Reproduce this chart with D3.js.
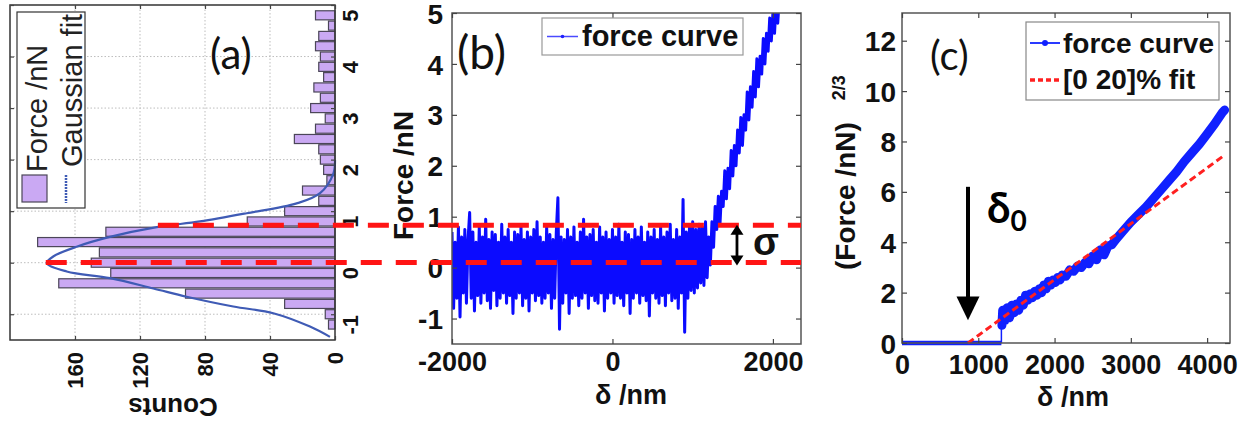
<!DOCTYPE html>
<html><head><meta charset="utf-8">
<script src="https://cdn.jsdelivr.net/npm/d3@7"></script>
<style>
body{margin:0;background:#fff;}
svg{display:block;}
</style></head><body>
<svg id="chart" width="1253" height="425"></svg>
<script>
// ---------- Panel (a): rotated histogram ----------
const histBinCenters = [-1.2,-1.0,-0.8,-0.6,-0.4,-0.2,0,0.2,0.4,0.6,0.8,1.0,1.2,1.4,1.6,1.8,2.0,2.2,2.4,2.6,2.8,3.0,3.2,3.4,3.6,3.8,4.0,4.2,4.4,4.6,4.8];
const histCounts = [4,6,31,92,170,138,150,145,183,141,54,31,10,20,5,7,9,10,25,12,6,15,9,13,7,10,9,12,10,4,12];
const gaussForce = [1.99,1.73,1.35,1.15,0.96,0.80,0.69,0.50,0.31,0.12,-0.01,-0.17,-0.30,-0.50,-0.66,-0.85,-0.98,-1.24,-1.44];
const gaussCounts = [0,1.0,9.2,23.6,54.3,83.1,109.7,138.5,159,173.4,177.4,165.1,138.5,111.8,91.3,62.6,38,15.4,3.1];
const countTicks = [0,40,80,120,160];
const forceTicksA = [-1,0,1,2,3,4,5];
const legendA = ["Force /nN","Gaussian fit"];

// ---------- Panel (b): force curve ----------
const curveBStart = -2000, curveBStep = 20;
const curveBForce = [
 0.7,-0.8,0.5,-0.6,0.8,-0.97,0.6,-0.5,0.75,-0.7,0.55,1.08,-0.6,0.7,-0.85,0.5,-0.55,0.8,-0.7,0.6,
 -0.5,0.95,-0.65,0.55,-0.8,0.7,-0.45,0.65,-0.75,0.5,-0.6,0.85,-0.5,0.6,-0.7,0.75,-0.55,0.5,-0.9,0.7,
 -0.6,0.65,-0.5,0.8,-0.75,0.55,-0.6,0.7,-0.85,0.6,-0.5,0.75,-0.65,0.9,-0.55,0.6,-0.7,0.5,-0.6,0.8,
 -0.5,0.65,-0.8,0.55,-0.6,0.7,1.37,-1.21,0.6,-0.7,0.55,-0.5,0.75,-0.9,0.6,-0.6,0.8,-0.55,0.5,-0.75,
 0.7,-0.6,0.95,-0.5,0.6,-0.8,0.65,-0.55,0.75,-0.65,0.5,-0.7,0.8,-0.5,0.6,-0.85,0.7,-0.6,0.55,-0.5,
 0.75,-0.7,0.6,-0.55,0.85,-0.6,0.5,-0.75,0.7,-0.5,0.65,-0.9,0.55,-0.6,0.75,-0.5,0.6,-0.7,0.8,-0.55,
 0.5,-0.65,0.7,-0.95,0.6,-0.5,0.75,-0.6,0.55,-0.7,0.8,-0.55,0.6,-0.75,0.7,-0.5,0.85,-0.65,0.55,-0.6,
 0.75,-0.8,0.6,-0.5,1.34,-1.27,0.7,-0.6,0.8,-0.45,0.9,-0.5,0.75,-0.4,0.85,-0.3,0.8,-0.35,0.9,-0.2,
 0.6,0.05,0.9,0.4,1.2,0.75,1.4,0.85,1.5,1.2,1.9,1.35,1.95,1.55,2.3,1.8,2.4,2.0,2.7,2.25,
 2.95,2.4,3.0,2.7,3.45,2.9,3.55,3.15,3.85,3.35,4.1,3.55,4.15,3.8,4.5,4.0,4.6,4.25,4.9,4.45,
 5.0,4.6,5.2,4.8,5.3,5.1];
const deltaTicksB = [-2000,0,2000];
const forceTicksB = [-1,0,1,2,3,4,5];
const sigmaLevels = [0.1, 0.83];
const sigmaStartCounts = [178, 109];

// ---------- Panel (c): linearised curve ----------
const flatCDelta = [0, 1303];
const flatCValue = [0, 0];
const jumpCValue = [0, 0.6];
const curveCDelta = [1310,1320,1350,1380,1410,1440,1470,1500,1530,1560,1590,1620,1650,1680,1710,1740,1770,1800,1830,1860,1890,1920,1950,1980,2010,2040,2070,2100,2150,2200,2250,2300,2350,2400,2450,2500,2550,2600,2650,2700,2750,2800,2900,3000,3100,3200,3300,3400,3500,3600,3700,3800,3900,4000,4100,4200,4230];
const curveCValue = [0.7,1.3,0.9,1.4,1.0,1.5,1.2,1.55,1.3,1.7,1.5,1.9,1.7,1.95,1.8,2.05,1.9,2.15,2.0,2.3,2.15,2.45,2.3,2.5,2.4,2.6,2.5,2.7,2.65,2.9,2.85,3.05,3.0,3.2,3.15,3.45,3.3,3.7,3.5,3.85,3.9,4.1,4.45,4.8,5.1,5.4,5.75,6.1,6.45,6.8,7.2,7.55,7.9,8.3,8.7,9.15,9.25];
const fitCDelta = [865, 4225];
const fitCValue = [0, 7.45];
const deltaTicksC = [0,1000,2000,3000,4000];
const valueTicksC = [0,2,4,6,8,10,12];
const legendB = ["force curve"];
const legendC = ["force curve","[0 20]% fit"];

const FONT = '"Liberation Sans", Arial, sans-serif';
const LFONT = 'Lato, "Open Sans", sans-serif';
const svg = d3.select("#chart");
svg.append("rect").attr("width",1253).attr("height",425).attr("fill","#fff");

function styleAxis(g){
  g.select(".domain").remove();
  g.selectAll(".tick line").attr("stroke","#444").attr("stroke-width",1.2);
  g.selectAll("text").attr("font-family",FONT).attr("fill","#111");
}
function noLabels(g){ g.selectAll("text").remove(); }

// ======== Panel A ========
const xA = d3.scaleLinear().domain([0,200]).range([335,10]);
const yA = d3.scaleLinear().domain([-1.5,5]).range([340,5]);
const gA = svg.append("g");
gA.selectAll("line.gx").data(countTicks.filter(d=>d>0)).join("line")
  .attr("x1",d=>xA(d)).attr("x2",d=>xA(d)).attr("y1",yA(-1.5)).attr("y2",yA(5))
  .attr("stroke","#bdbdbd").attr("stroke-dasharray","1.5,2");
gA.selectAll("line.gy").data(forceTicksA.filter(d=>d<5)).join("line")
  .attr("y1",d=>yA(d)).attr("y2",d=>yA(d)).attr("x1",xA(200)).attr("x2",xA(0))
  .attr("stroke","#bdbdbd").attr("stroke-dasharray","1.5,2");
const binW = 0.2;
gA.selectAll("rect.bar").data(histCounts).join("rect")
  .attr("x",d=>xA(d)).attr("width",d=>xA(0)-xA(d))
  .attr("y",(d,i)=>yA(histBinCenters[i]+binW*0.44))
  .attr("height",yA(0)-yA(binW*0.88))
  .attr("fill","#caa9f3").attr("stroke","#4b4658").attr("stroke-width",1.2);
const gaussLine = d3.line().x(d=>xA(d[1])).y(d=>yA(d[0])).curve(d3.curveCatmullRom);
gA.append("path").datum(d3.zip(gaussForce,gaussCounts)).attr("d",gaussLine)
  .attr("fill","none").attr("stroke","#3f5bb5").attr("stroke-width",2.2);
gA.append("rect").attr("x",xA(200)).attr("y",yA(5)).attr("width",xA(0)-xA(200)).attr("height",yA(-1.5)-yA(5))
  .attr("fill","none").attr("stroke","#333").attr("stroke-width",1.5);
const aR = gA.append("g").attr("transform",`translate(${xA(0)},0)`)
  .call(d3.axisRight(yA).tickValues(forceTicksA).tickSize(-4).tickFormat(d=>String(d)));
styleAxis(aR);
aR.selectAll("text").attr("x",null).attr("dy",null)
  .attr("transform","translate(23,10) rotate(-90)").attr("text-anchor","middle")
  .attr("font-size",22).attr("font-weight","bold");
const aL = gA.append("g").attr("transform",`translate(${xA(200)},0)`)
  .call(d3.axisLeft(yA).tickValues(forceTicksA).tickSize(-4));
styleAxis(aL); noLabels(aL);
const aB = gA.append("g").attr("transform",`translate(0,${yA(-1.5)})`)
  .call(d3.axisBottom(xA).tickValues(countTicks).tickSize(-4).tickFormat(d=>String(d)));
styleAxis(aB);
aB.selectAll("text").attr("y",null).attr("dy","0.36em")
  .attr("transform","translate(0,12) rotate(-90)").attr("text-anchor","end")
  .attr("font-size",22).attr("font-weight","bold");
const aT = gA.append("g").attr("transform",`translate(0,${yA(5)})`)
  .call(d3.axisTop(xA).tickValues(countTicks).tickSize(-4));
styleAxis(aT); noLabels(aT);
gA.append("text").attr("transform","translate(173,398) rotate(180)").attr("text-anchor","middle")
  .attr("font-family",FONT).attr("font-weight","bold").attr("font-size",26).attr("fill","#111").text("Counts");
gA.append("rect").attr("x",17).attr("y",12).attr("width",68).attr("height",196)
  .attr("fill","#fff").attr("stroke","#333").attr("stroke-width",1.2);
gA.append("rect").attr("x",22).attr("y",175).attr("width",25).attr("height",27)
  .attr("fill","#caa9f3").attr("stroke","#4b4658").attr("stroke-width",1.2);
gA.append("line").attr("x1",66).attr("x2",66).attr("y1",175).attr("y2",203)
  .attr("stroke","#3f5bb5").attr("stroke-width",2.5).attr("stroke-dasharray","2,1");
gA.append("text").attr("transform","translate(47,172) rotate(-90)").attr("font-family",FONT)
  .attr("font-size",29).attr("fill","#222").text(legendA[0]);
gA.append("text").attr("transform","translate(82,167) rotate(-90)").attr("font-family",FONT)
  .attr("font-size",29).attr("fill","#222").text(legendA[1]);
gA.append("text").attr("x",210).attr("y",69).attr("font-family",LFONT).attr("font-size",42).attr("fill","#111").text("(a)");

// ======== Panel B ========
const xB = d3.scaleLinear().domain([-2000,2350]).range([452,801]);
const yB = d3.scaleLinear().domain([-1.5,5]).range([344,13]);
const gB = svg.append("g");
svg.append("defs").append("clipPath").attr("id","clipB").append("rect")
  .attr("x",xB(-2000)).attr("y",yB(5)).attr("width",xB(2350)-xB(-2000)).attr("height",yB(-1.5)-yB(5));
const lineB = d3.line().x((d,i)=>xB(curveBStart+i*curveBStep)).y(d=>yB(d));
gB.append("path").datum(curveBForce).attr("d",lineB).attr("clip-path","url(#clipB)")
  .attr("fill","none").attr("stroke","#0b0bff").attr("stroke-width",3).attr("stroke-linejoin","round");
gB.append("rect").attr("x",xB(-2000)).attr("y",yB(5)).attr("width",xB(2350)-xB(-2000)).attr("height",yB(-1.5)-yB(5))
  .attr("fill","none").attr("stroke","#555").attr("stroke-width",1.5);
const bB = gB.append("g").attr("transform",`translate(0,${yB(-1.5)})`)
  .call(d3.axisBottom(xB).tickValues(deltaTicksB).tickSize(-5).tickFormat(d=>String(d)));
styleAxis(bB);
bB.selectAll("text").attr("y",27).attr("dy",null).attr("font-size",27).attr("font-weight","bold");
const tB = gB.append("g").attr("transform",`translate(0,${yB(5)})`)
  .call(d3.axisTop(xB).tickValues(deltaTicksB).tickSize(-5));
styleAxis(tB); noLabels(tB);
const lB = gB.append("g").attr("transform",`translate(${xB(-2000)},0)`)
  .call(d3.axisLeft(yB).tickValues(forceTicksB).tickSize(-5).tickFormat(d=>String(d)));
styleAxis(lB);
lB.selectAll("text").attr("x",-9).attr("dy","0.36em").attr("font-size",28).attr("font-weight","bold");
const rB = gB.append("g").attr("transform",`translate(${xB(2350)},0)`)
  .call(d3.axisRight(yB).tickValues(forceTicksB).tickSize(-5));
styleAxis(rB); noLabels(rB);
gB.append("text").attr("transform","translate(413,240) rotate(-90)").attr("font-family",FONT)
  .attr("font-weight","bold").attr("font-size",28).attr("fill","#111").text("Force /nN");
gB.append("text").attr("x",631).attr("y",404).attr("text-anchor","middle").attr("font-family",FONT)
  .attr("font-weight","bold").attr("font-size",27).attr("fill","#111").text("δ /nm");
gB.append("rect").attr("x",542).attr("y",18).attr("width",201).attr("height",37)
  .attr("fill","#fff").attr("stroke","#999").attr("stroke-width",1.2);
gB.append("line").attr("x1",547).attr("x2",578).attr("y1",36.5).attr("y2",36.5).attr("stroke","#4a4aff").attr("stroke-width",1.5);
gB.append("circle").attr("cx",562.5).attr("cy",36.5).attr("r",1.8).attr("fill","#2020ff");
gB.append("text").attr("x",582).attr("y",46).attr("font-family",FONT).attr("font-weight","bold")
  .attr("font-size",29).attr("fill","#111").text(legendB[0]);
gB.append("text").attr("x",457).attr("y",69).attr("font-family",LFONT).attr("font-size",46).attr("fill","#111").text("(b)");

// ======== Panel C ========
const xC = d3.scaleLinear().domain([0,4300]).range([902,1230]);
const yC = d3.scaleLinear().domain([0,13.1]).range([343,13]);
const gC = svg.append("g");
const lineC = d3.line().x(d=>xC(d[0])).y(d=>yC(d[1]));
gC.append("path").datum(d3.zip(flatCDelta,flatCValue)).attr("d",lineC)
  .attr("fill","none").attr("stroke","#1020ff").attr("stroke-width",4.5);
gC.append("path").datum([[flatCDelta[1],jumpCValue[0]],[flatCDelta[1],jumpCValue[1]]]).attr("d",lineC)
  .attr("fill","none").attr("stroke","#1020ff").attr("stroke-width",1.5);
gC.append("path").datum(d3.zip(curveCDelta,curveCValue)).attr("d",lineC)
  .attr("fill","none").attr("stroke","#1020ff").attr("stroke-width",9)
  .attr("stroke-linejoin","round").attr("stroke-linecap","round");
gC.append("path").datum(d3.zip(fitCDelta,fitCValue)).attr("d",lineC)
  .attr("fill","none").attr("stroke","#ff2020").attr("stroke-width",3).attr("stroke-dasharray","7,4");
gC.append("rect").attr("x",xC(0)).attr("y",yC(13.1)).attr("width",xC(4300)-xC(0)).attr("height",yC(0)-yC(13.1))
  .attr("fill","none").attr("stroke","#555").attr("stroke-width",1.5);
const bC = gC.append("g").attr("transform",`translate(0,${yC(0)})`)
  .call(d3.axisBottom(xC).tickValues(deltaTicksC).tickSize(-5).tickFormat(d=>String(d)));
styleAxis(bC);
bC.selectAll("text").attr("y",31).attr("dy",null).attr("font-size",27).attr("font-weight","bold");
const tC = gC.append("g").attr("transform",`translate(0,${yC(13.1)})`)
  .call(d3.axisTop(xC).tickValues(deltaTicksC).tickSize(-5));
styleAxis(tC); noLabels(tC);
const lC = gC.append("g").attr("transform",`translate(${xC(0)},0)`)
  .call(d3.axisLeft(yC).tickValues(valueTicksC).tickSize(-5).tickFormat(d=>String(d)));
styleAxis(lC);
lC.selectAll("text").attr("x",-6).attr("dy","0.36em").attr("font-size",28).attr("font-weight","bold");
const rC = gC.append("g").attr("transform",`translate(${xC(4300)},0)`)
  .call(d3.axisRight(yC).tickValues(valueTicksC).tickSize(-5));
styleAxis(rC); noLabels(rC);
const ylabC = gC.append("text").attr("transform","translate(855,270) rotate(-90)").attr("font-family",FONT)
  .attr("font-weight","bold").attr("font-size",28).attr("fill","#111");
ylabC.append("tspan").text("(Force /nN)");
ylabC.append("tspan").attr("dx",22).attr("dy",-10).attr("font-size",18).text("2/3");
gC.append("text").attr("x",1073).attr("y",406).attr("text-anchor","middle").attr("font-family",FONT)
  .attr("font-weight","bold").attr("font-size",27).attr("fill","#111").text("δ /nm");
gC.append("rect").attr("x",1026).attr("y",22).attr("width",193).attr("height",78)
  .attr("fill","#fff").attr("stroke","#888").attr("stroke-width",1.2);
gC.append("line").attr("x1",1030).attr("x2",1060).attr("y1",43).attr("y2",43).attr("stroke","#2a3aff").attr("stroke-width",2);
gC.append("circle").attr("cx",1045).attr("cy",43).attr("r",3).attr("fill","#1020ff");
gC.append("line").attr("x1",1030).attr("x2",1062).attr("y1",80).attr("y2",80).attr("stroke","#ff2020").attr("stroke-width",3.5).attr("stroke-dasharray","5,3");
gC.append("text").attr("x",1063).attr("y",53).attr("font-family",FONT).attr("font-weight","bold")
  .attr("font-size",28).attr("fill","#111").text(legendC[0]);
gC.append("text").attr("x",1063).attr("y",89).attr("font-family",FONT).attr("font-weight","bold")
  .attr("font-size",28).attr("fill","#111").text(legendC[1]);
gC.append("text").attr("x",930).attr("y",70).attr("font-family",LFONT).attr("font-size",40).attr("fill","#111").text("(c)");
const ax0 = xC(fitCDelta[0]);
gC.append("line").attr("x1",ax0).attr("x2",ax0).attr("y1",yC(6.2)).attr("y2",yC(1.8)).attr("stroke","#000").attr("stroke-width",4);
gC.append("path").attr("d",`M${ax0-11.5},${yC(1.85)} L${ax0+11.5},${yC(1.85)} L${ax0},${yC(0.9)} Z`).attr("fill","#000");
const d0 = gC.append("text").attr("x",xC(1114)).attr("y",yC(4.76)).attr("font-family",LFONT)
  .attr("font-weight","bold").attr("font-size",42).attr("fill","#000");
d0.append("tspan").text("δ");
d0.append("tspan").attr("dy",8).attr("font-size",28).text("0");

// ======== sigma lines across (a) and (b) ========
const gS = svg.append("g");
sigmaLevels.forEach((lev,i)=>{
  gS.append("line").attr("x1",xA(sigmaStartCounts[i])).attr("x2",xB(2350))
    .attr("y1",yB(lev)).attr("y2",yB(lev))
    .attr("stroke","#ff1414").attr("stroke-width",5).attr("stroke-dasharray","21,14");
});
const sx = xB(1552);
const yTop = yB(0.84), yBot = yB(0.04);
gS.append("line").attr("x1",sx).attr("x2",sx).attr("y1",yTop+8).attr("y2",yBot-8).attr("stroke","#000").attr("stroke-width",2.8);
gS.append("path").attr("d",`M${sx-6.5},${yTop+10} L${sx+6.5},${yTop+10} L${sx},${yTop} Z`).attr("fill","#000");
gS.append("path").attr("d",`M${sx-6.5},${yBot-10} L${sx+6.5},${yBot-10} L${sx},${yBot} Z`).attr("fill","#000");
gS.append("text").attr("x",sx+16).attr("y",yB(0.25)).attr("font-family",FONT).attr("font-weight","bold")
  .attr("font-size",38).attr("fill","#111").text("σ");
</script></body></html>
